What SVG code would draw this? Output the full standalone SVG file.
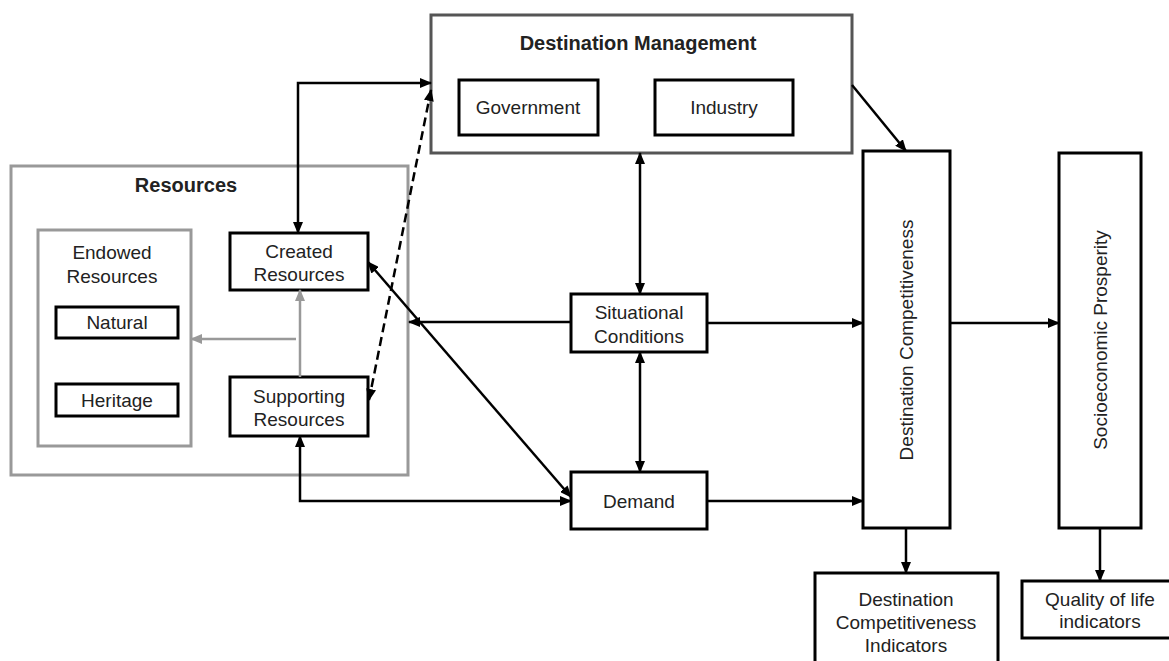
<svg xmlns="http://www.w3.org/2000/svg" width="1169" height="661" viewBox="0 0 1169 661">
<style>
text{font-family:"Liberation Sans",Arial,sans-serif;font-size:19px;fill:#222;text-anchor:middle}
.b{font-weight:bold;font-size:20px}
.box{fill:#fff;stroke:#000;stroke-width:3}
.gbox{fill:none;stroke:#999;stroke-width:3}
.dbox{fill:#fff;stroke:#555;stroke-width:3}
.c{fill:none;stroke:#000;stroke-width:2.5}
.g{fill:none;stroke:#999;stroke-width:2.5}
</style>
<defs>
<marker id="a" markerUnits="userSpaceOnUse" markerWidth="12" markerHeight="10" refX="11" refY="5" orient="auto-start-reverse"><path d="M0,0 L12,5 L0,10 Z" fill="#000"/></marker>
<marker id="ag" markerUnits="userSpaceOnUse" markerWidth="12" markerHeight="10" refX="11" refY="5" orient="auto-start-reverse"><path d="M0,0 L12,5 L0,10 Z" fill="#999"/></marker>
</defs>
<rect width="1169" height="661" fill="#fff"/>
<g id="resources">
<rect class="gbox" x="11" y="166" width="397" height="309"/>
<text class="b" x="186" y="192">Resources</text>
</g>
<g id="endowed">
<rect class="gbox" x="38" y="230" width="153" height="216"/>
<text x="112" y="259">Endowed</text>
<text x="112" y="283">Resources</text>
</g>
<g id="natural"><rect class="box" x="56" y="307" width="122" height="31"/><text x="117" y="329">Natural</text></g>
<g id="heritage"><rect class="box" x="56" y="384" width="122" height="32"/><text x="117" y="407">Heritage</text></g>
<g id="created"><rect class="box" x="230" y="233" width="138" height="57"/><text x="299" y="258">Created</text><text x="299" y="281">Resources</text></g>
<g id="supporting"><rect class="box" x="230" y="377" width="138" height="59"/><text x="299" y="403">Supporting</text><text x="299" y="426">Resources</text></g>
<g id="management">
<rect class="dbox" x="431" y="15" width="421" height="138"/>
<text class="b" x="638" y="50">Destination Management</text>
</g>
<g id="government"><rect class="box" x="459" y="80" width="139" height="55"/><text x="528" y="114">Government</text></g>
<g id="industry"><rect class="box" x="655" y="80" width="138" height="55"/><text x="724" y="114">Industry</text></g>
<g id="situational"><rect class="box" x="571" y="294" width="136" height="58"/><text x="639" y="319">Situational</text><text x="639" y="343">Conditions</text></g>
<g id="demand"><rect class="box" x="571" y="472" width="136" height="57"/><text x="639" y="508">Demand</text></g>
<g id="competitiveness"><rect class="box" x="863" y="151" width="87" height="377"/><text x="906" y="347" transform="rotate(-90 906 340)">Destination Competitiveness</text></g>
<g id="prosperity"><rect class="box" x="1059" y="153" width="82" height="375"/><text x="1100" y="347" transform="rotate(-90 1100 340)">Socioeconomic Prosperity</text></g>
<g id="dc-indicators"><rect class="box" x="815" y="573" width="183" height="95"/><text x="906" y="606">Destination</text><text x="906" y="629">Competitiveness</text><text x="906" y="652">Indicators</text></g>
<g id="qol-indicators"><rect class="box" x="1022" y="581" width="150" height="57"/><text x="1100" y="606">Quality of life</text><text x="1100" y="628">indicators</text></g>
<g id="connectors">
<path class="c" d="M431,83 H298 V233" marker-start="url(#a)" marker-end="url(#a)"/>
<path class="c" d="M431,90 L369,400" stroke-dasharray="9,5" marker-start="url(#a)" marker-end="url(#a)"/>
<path class="c" d="M368,262 L571,497" marker-start="url(#a)" marker-end="url(#a)"/>
<path class="c" d="M300,436 V501 H571" marker-start="url(#a)" marker-end="url(#a)"/>
<path class="c" d="M571,322 H409" marker-end="url(#a)"/>
<path class="c" d="M640,153 V294" marker-start="url(#a)" marker-end="url(#a)"/>
<path class="c" d="M640,352 V472" marker-start="url(#a)" marker-end="url(#a)"/>
<path class="c" d="M707,323 H863" marker-end="url(#a)"/>
<path class="c" d="M707,501 H863" marker-end="url(#a)"/>
<path class="c" d="M852,85 L906,151" marker-end="url(#a)"/>
<path class="c" d="M950,323 H1059" marker-end="url(#a)"/>
<path class="c" d="M906,528 V573" marker-end="url(#a)"/>
<path class="c" d="M1100,528 V581" marker-end="url(#a)"/>
<path class="g" d="M300,377 V290" marker-end="url(#ag)"/>
<path class="g" d="M296,339 H191" marker-end="url(#ag)"/>
</g>
</svg>
